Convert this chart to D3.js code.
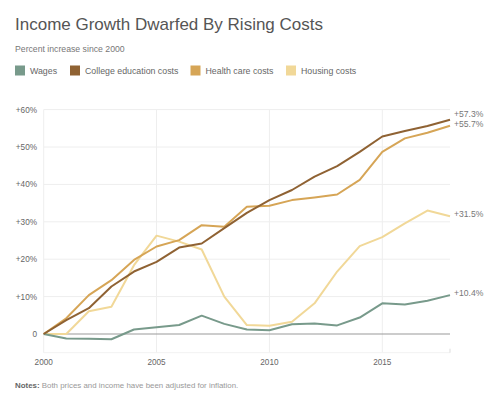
<!DOCTYPE html>
<html>
<head>
<meta charset="utf-8">
<script src="https://cdn.jsdelivr.net/npm/d3@7"></script>
<style>
  body { margin: 0; background: #fff; }
  text { font-family: "Helvetica Neue", Arial, "Liberation Sans", sans-serif; }
</style>
</head>
<body>
<svg id="chart" width="500" height="399"></svg>
<script>
const years = d3.range(2000, 2019);
const wages     = [0, -1.2, -1.3, -1.4, 1.2, 1.8, 2.4, 4.9, 2.7, 1.2, 1.0, 2.6, 2.8, 2.3, 4.4, 8.2, 7.9, 8.9, 10.4];
const college   = [0, 3.7, 6.9, 12.7, 16.7, 19.3, 23.1, 24.2, 28.3, 32.4, 35.8, 38.5, 42.1, 44.9, 48.7, 52.8, 54.3, 55.6, 57.3];
const health    = [0, 4.2, 10.4, 14.4, 19.8, 23.4, 25.1, 29.1, 28.7, 34.0, 34.3, 35.8, 36.5, 37.3, 41.2, 48.7, 52.3, 53.8, 55.7];
const housing   = [0, 0, 6.1, 7.3, 18.4, 26.3, 24.7, 22.6, 10.0, 2.4, 2.2, 3.3, 8.2, 16.7, 23.5, 25.9, 29.6, 33.0, 31.5];
const seriesNames = ['Wages', 'College education costs', 'Health care costs', 'Housing costs'];
const seriesColors = ['#789a8b', '#8f6233', '#d6a556', '#f1d898'];
const yTicks = [0, 10, 20, 30, 40, 50, 60];
const xTicks = [2000, 2005, 2010, 2015];

const svg = d3.select('#chart');
const series = [wages, college, health, housing];

// title block
svg.append('text').attr('x', 15).attr('y', 30)
  .attr('font-size', 17).attr('fill', '#555').attr('font-weight', 300)
  .text('Income Growth Dwarfed By Rising Costs');
svg.append('text').attr('x', 15).attr('y', 52)
  .attr('font-size', 8.7).attr('fill', '#777')
  .text('Percent increase since 2000');

// legend
const legendX = [15, 70, 190.5, 286];
seriesNames.forEach(function(name, i) {
  svg.append('rect').attr('x', legendX[i]).attr('y', 65.5)
    .attr('width', 10).attr('height', 10).attr('fill', seriesColors[i]);
  svg.append('text').attr('x', legendX[i] + 15).attr('y', 74)
    .attr('font-size', 8.8).attr('fill', '#666').text(name);
});

const x = d3.scaleLinear().domain([2000, 2018]).range([43.7, 450]);
const y = d3.scaleLinear().domain([0, 60]).range([334, 109.6]);
const yBottom = y(-5);

// grid
svg.append('g').selectAll('line').data(yTicks.filter(d => d !== 0)).join('line')
  .attr('x1', x(2000)).attr('x2', x(2018))
  .attr('y1', d => y(d)).attr('y2', d => y(d))
  .attr('stroke', '#eee').attr('stroke-width', 1);
svg.append('g').selectAll('line').data(xTicks).join('line')
  .attr('x1', d => x(d)).attr('x2', d => x(d))
  .attr('y1', y(60)).attr('y2', yBottom)
  .attr('stroke', '#eee').attr('stroke-width', 1);
svg.append('line')
  .attr('x1', x(2000)).attr('x2', x(2018))
  .attr('y1', yBottom).attr('y2', yBottom)
  .attr('stroke', '#f2f2f2');
svg.append('line')
  .attr('x1', x(2018)).attr('x2', x(2018))
  .attr('y1', yBottom - 4).attr('y2', yBottom)
  .attr('stroke', '#ddd');

// axis labels
svg.append('g').selectAll('text').data(yTicks).join('text')
  .attr('x', 37).attr('y', d => y(d) + 3)
  .attr('text-anchor', 'end').attr('font-size', 8.2).attr('fill', '#666')
  .text(d => d === 0 ? '0' : '+' + d + '%');
svg.append('g').selectAll('text').data(xTicks).join('text')
  .attr('x', d => x(d)).attr('y', 365)
  .attr('text-anchor', 'middle').attr('font-size', 8.2).attr('fill', '#666')
  .text(d => d);

// zero line
svg.append('line')
  .attr('x1', x(2000)).attr('x2', x(2018))
  .attr('y1', y(0)).attr('y2', y(0))
  .attr('stroke', '#999').attr('stroke-width', 1.2);

// lines (draw housing first so darker ones lie on top)
const line = d3.line()
  .x(function(d, i) { return x(years[i]); })
  .y(function(d) { return y(d); });
[3, 2, 0, 1].forEach(function(i) {
  svg.append('path')
    .datum(series[i])
    .attr('fill', 'none')
    .attr('stroke', seriesColors[i])
    .attr('stroke-width', 2)
    .attr('stroke-linejoin', 'round')
    .attr('d', line);
});

// end labels
const ends = series.map(function(s) { return { v: s[s.length - 1], ly: y(s[s.length - 1]) }; });
const sorted = ends.slice().sort((a, b) => b.ly - a.ly);
for (let k = 1; k < sorted.length; k++) {
  if (sorted[k - 1].ly - sorted[k].ly < 10) sorted[k].ly = sorted[k - 1].ly - 10;
}
svg.append('g').selectAll('text').data(ends).join('text')
  .attr('x', 454).attr('y', d => d.ly + 1)
  .attr('font-size', 8.6).attr('fill', '#777')
  .text(d => '+' + d.v.toFixed(1) + '%');

// notes
const note = svg.append('text').attr('x', 15).attr('y', 388)
  .attr('font-size', 7.9).attr('fill', '#999');
note.append('tspan').attr('font-weight', 'bold').attr('fill', '#666').text('Notes: ');
note.append('tspan').text('Both prices and income have been adjusted for inflation.');
</script>
</body>
</html>
